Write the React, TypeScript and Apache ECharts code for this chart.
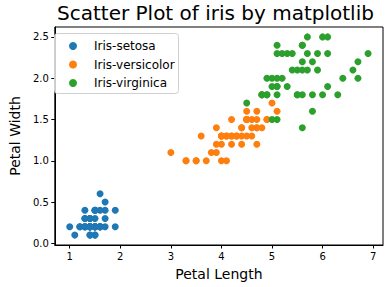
import React, { useEffect, useRef } from "react";
import * as echarts from "echarts";

const setosa: number[][] = [
  [1.4,0.2],[1.4,0.2],[1.3,0.2],[1.5,0.2],[1.4,0.2],[1.7,0.4],[1.4,0.3],[1.5,0.2],[1.4,0.2],[1.5,0.1],
  [1.5,0.2],[1.6,0.2],[1.4,0.1],[1.1,0.1],[1.2,0.2],[1.5,0.4],[1.3,0.4],[1.4,0.3],[1.7,0.3],[1.5,0.3],
  [1.7,0.2],[1.5,0.4],[1.0,0.2],[1.7,0.5],[1.9,0.2],[1.6,0.2],[1.6,0.4],[1.5,0.2],[1.4,0.2],[1.6,0.2],
  [1.6,0.2],[1.5,0.4],[1.5,0.1],[1.4,0.2],[1.5,0.2],[1.2,0.2],[1.3,0.2],[1.4,0.1],[1.3,0.2],[1.5,0.2],
  [1.3,0.3],[1.3,0.3],[1.3,0.2],[1.6,0.6],[1.9,0.4],[1.4,0.3],[1.6,0.2],[1.4,0.2],[1.5,0.2],[1.4,0.2],
];
const versicolor: number[][] = [
  [4.7,1.4],[4.5,1.5],[4.9,1.5],[4.0,1.3],[4.6,1.5],[4.5,1.3],[4.7,1.6],[3.3,1.0],[4.6,1.3],[3.9,1.4],
  [3.5,1.0],[4.2,1.5],[4.0,1.0],[4.7,1.4],[3.6,1.3],[4.4,1.4],[4.5,1.5],[4.1,1.0],[4.5,1.5],[3.9,1.1],
  [4.8,1.8],[4.0,1.3],[4.9,1.5],[4.7,1.2],[4.3,1.3],[4.4,1.4],[4.8,1.4],[5.0,1.7],[4.5,1.5],[3.5,1.0],
  [3.8,1.1],[3.7,1.0],[3.9,1.2],[5.1,1.6],[4.5,1.5],[4.5,1.6],[4.7,1.5],[4.4,1.3],[4.1,1.3],[4.0,1.3],
  [4.4,1.2],[4.6,1.4],[4.0,1.2],[3.3,1.0],[4.2,1.3],[4.2,1.2],[4.2,1.3],[4.3,1.3],[3.0,1.1],[4.1,1.3],
];
const virginica: number[][] = [
  [6.0,2.5],[5.1,1.9],[5.9,2.1],[5.6,1.8],[5.8,2.2],[6.6,2.1],[4.5,1.7],[6.3,1.8],[5.8,1.8],[6.1,2.5],
  [5.1,2.0],[5.3,1.9],[5.5,2.1],[5.0,2.0],[5.1,2.4],[5.3,2.3],[5.5,1.8],[6.7,2.2],[6.9,2.3],[5.0,1.5],
  [5.7,2.3],[4.9,2.0],[6.7,2.0],[4.9,1.8],[5.7,2.1],[6.0,1.8],[4.8,1.8],[4.9,1.8],[5.6,2.1],[5.8,1.6],
  [6.1,1.9],[6.4,2.0],[5.6,2.2],[5.1,1.5],[5.6,1.4],[6.1,2.3],[5.6,2.4],[5.5,1.8],[4.8,1.8],[5.4,2.1],
  [5.6,2.4],[5.1,2.3],[5.1,1.9],[5.9,2.3],[5.7,2.5],[5.2,2.3],[5.0,1.9],[5.2,2.0],[5.4,2.3],[5.1,1.8],
];

const seriesNames = ["Iris-setosa", "Iris-versicolor", "Iris-virginica"];
const seriesColors = ["#1f77b4", "#ff7f0e", "#2ca02c"];
const xTicks = [1, 2, 3, 4, 5, 6, 7];
const yTicks = [0, 0.5, 1.0, 1.5, 2.0, 2.5];

export default function App() {
  const ref = useRef<HTMLDivElement>(null);
  useEffect(() => {
    if (!ref.current) return;
    const chart = echarts.init(ref.current, null, { renderer: "svg" });
    const font = "DejaVu Sans";
    const datasets = [setosa, versicolor, virginica];
    chart.setOption({
      animation: false,
      textStyle: { fontFamily: font },
      title: {
        text: "Scatter Plot of iris by matplotlib",
        left: 57,
        top: 3,
        padding: 0,
        textStyle: { fontFamily: font, fontSize: 20, fontWeight: "normal", color: "#000" },
      },
      grid: {
        left: 48, right: 7, top: 27, bottom: 42,
        show: true, borderColor: "#000", borderWidth: 1, backgroundColor: "#fff",
      },
      xAxis: {
        type: "value",
        min: 0.705, max: 7.195,
        name: "Petal Length",
        nameLocation: "middle",
        nameGap: 22,
        nameTextStyle: { fontFamily: font, fontSize: 14, color: "#000" },
        axisLine: { show: true, onZero: false, lineStyle: { color: "#000" } },
        axisTick: { show: true, length: 3.5, customValues: xTicks, lineStyle: { color: "#000" } },
        axisLabel: { customValues: xTicks, fontFamily: font, fontSize: 10, color: "#000", margin: 6, formatter: (v: number) => String(v) },
        splitLine: { show: false },
      },
      yAxis: {
        type: "value",
        min: -0.02, max: 2.62,
        name: "Petal Width",
        nameLocation: "middle",
        nameGap: 29,
        nameRotate: 90,
        nameTextStyle: { fontFamily: font, fontSize: 14, color: "#000" },
        axisLine: { show: true, onZero: false, lineStyle: { color: "#000" } },
        axisTick: { show: true, length: 3.5, customValues: yTicks, lineStyle: { color: "#000" } },
        axisLabel: { customValues: yTicks, fontFamily: font, fontSize: 10, color: "#000", margin: 6, formatter: (v: number) => v.toFixed(1) },
        splitLine: { show: false },
      },
      legend: {
        orient: "vertical",
        left: 64,
        top: 34,
        itemWidth: 8,
        itemHeight: 8,
        itemGap: 4.5,
        icon: "circle",
        data: seriesNames,
        textStyle: { fontFamily: font, fontSize: 12, color: "#000", padding: [0, 0, 0, 12], lineHeight: 14 },
      },
      graphic: [
        {
          type: "rect",
          shape: { x: 54.5, y: 33.5, width: 124, height: 60, r: 3 },
          style: { fill: "rgba(255,255,255,0.8)", stroke: "#d0d0d0", lineWidth: 1 },
          z: 1,
        },
      ],
      series: datasets.map((d, i) => ({
        name: seriesNames[i],
        type: "scatter",
        data: d,
        symbolSize: 7,
        itemStyle: { color: seriesColors[i], opacity: 1 },
        z: 2,
      })),
    });
    return () => chart.dispose();
  }, []);
  return <div ref={ref} style={{ width: 390, height: 287, position: "absolute", left: 0, top: 0 }} />;
}
